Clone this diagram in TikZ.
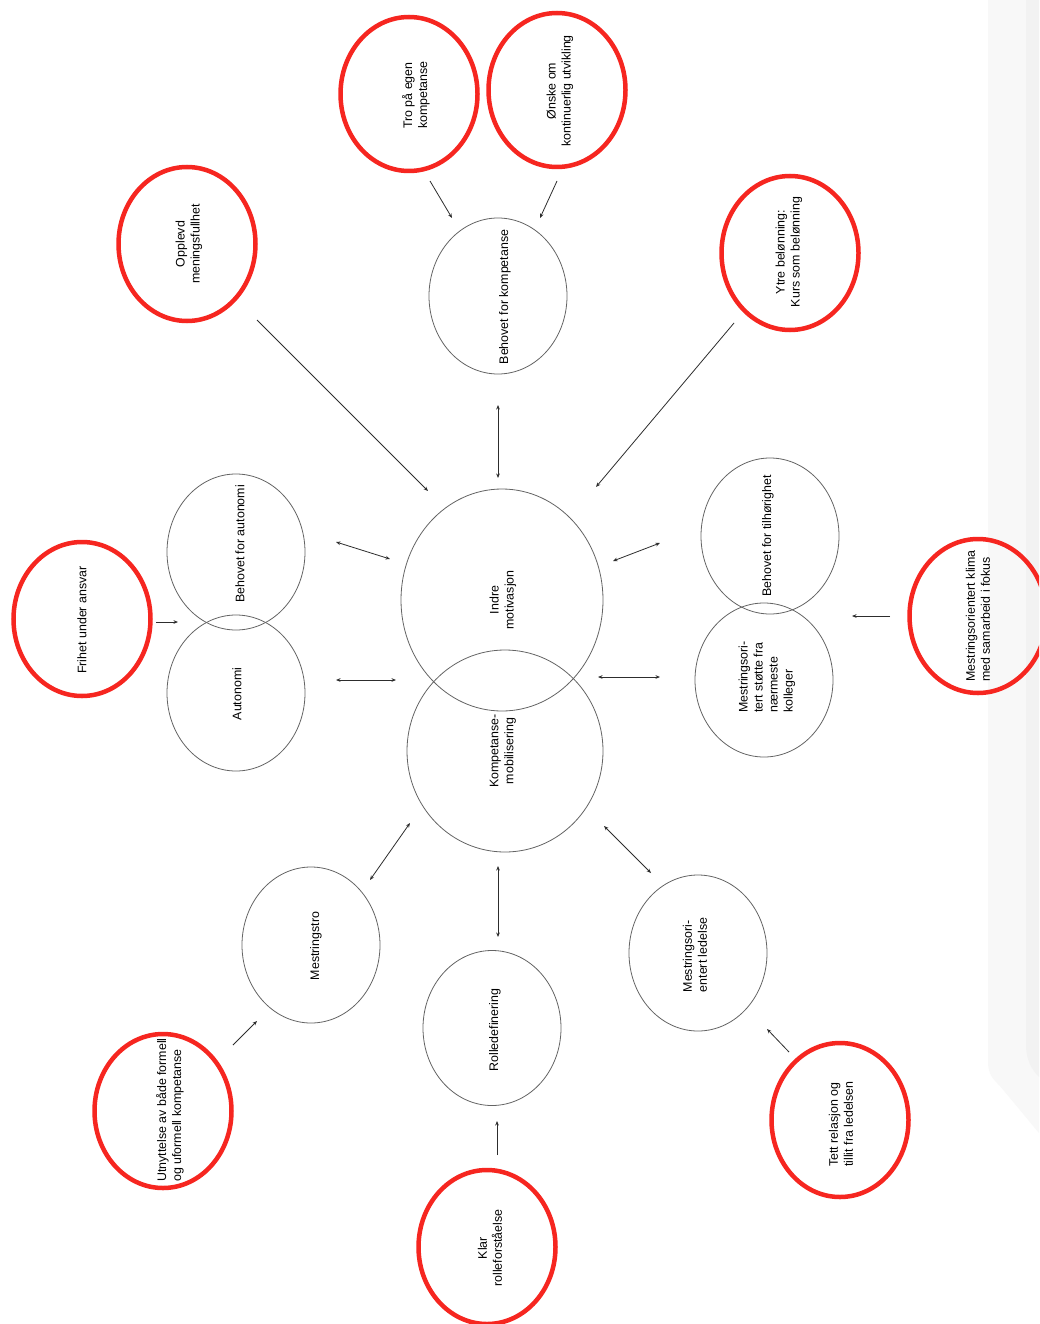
\documentclass[tikz,border=0pt]{standalone}
\usepackage{fontspec}
\setmainfont{Liberation Sans}
\usetikzlibrary{shapes.geometric,arrows.meta}
\definecolor{ringred}{RGB}{246,38,32}
\definecolor{ringgray}{RGB}{100,100,100}
\definecolor{arrowgray}{RGB}{45,45,45}
\definecolor{panelA}{RGB}{248,248,248}
\definecolor{panelB}{RGB}{242,242,242}
\begin{document}
\begin{tikzpicture}[x=1pt,y=-1pt,
  redring/.style={ellipse, draw=ringred, line width=4.5pt, minimum width=137pt, minimum height=154pt, inner sep=0pt},
  grayring/.style={ellipse, draw=ringgray, line width=0.8pt, minimum width=138pt, minimum height=156pt, inner sep=0pt},
  txt/.style={rotate=90, font=\fontsize{12.4}{15}\selectfont, inner sep=0pt, align=center},
  txtl/.style={txt, align=left},
  tip/.tip={Stealth[length=4.5pt,width=3.6pt]},
  conn/.style={draw=arrowgray, line width=0.8pt, -tip},
  biconn/.style={draw=arrowgray, line width=0.8pt, tip-tip}]
\useasboundingbox (0,0) rectangle (1039,1324);
\clip (0,0) rectangle (1039,1324);
\fill[white] (0,0) rectangle (1039,1324);
% faint panel at right edge
\fill[panelA] (988,0) -- (988,1062) .. controls (988,1075) and (994,1080) .. (1000,1086) -- (1039,1133) -- (1039,0) -- cycle;
\fill[panelB] (1026,0) -- (1026,1045) .. controls (1026,1060) and (1032,1070) .. (1039,1077) -- (1039,0) -- cycle;

% red rings
\node[redring] (tro) at (409,94) {};
\node[redring] (onske) at (557,90) {};
\node[redring] (opplevd) at (187,244) {};
\node[redring] (ytre) at (790,253) {};
\node[redring] (frihet) at (82,619) {};
\node[redring] (klima) at (978,616) {};
\node[redring] (utnytt) at (163,1111) {};
\node[redring] (klar) at (487,1247) {};
\node[redring] (tett) at (840,1120) {};

% gray rings
\node[grayring] (bkomp) at (498,296) {};
\node[grayring, minimum width=202pt, minimum height=222pt] (indre) at (502,600) {};
\node[grayring, minimum width=196pt, minimum height=202pt] (kmob) at (505,751) {};
\node[grayring] (baut) at (236,552) {};
\node[grayring] (auto) at (236,693) {};
\node[grayring] (btilh) at (770,536) {};
\node[grayring, minimum height=154pt] (mstotte) at (764,680) {};
\node[grayring] (mtro) at (311,945) {};
\node[grayring, minimum height=155pt] (rolle) at (492,1028) {};
\node[grayring] (mled) at (698,953) {};

% texts
\node[txtl] (tro-t) at (416,95) {Tro på egen\\kompetanse};
\node[txt] (onske-t) at (560,91) {Ønske om\\kontinuerlig utvikling};
\node[txt] (opplevd-t) at (189,244) {Opplevd\\meningsfullhet};
\node[txt] (ytre-t) at (789,252) {Ytre belønning:\\Kurs som belønning};
\node[txt] (frihet-t) at (82,620) {Frihet under ansvar};
\node[txtl] (klima-t) at (978,616) {Mestringsorientert klima\\med samarbeid i fokus};
\node[txtl] (utnytt-t) at (170,1110) {Utnyttelse av både formell\\og uformell kompetanse};
\node[txt] (klar-t) at (490,1248) {Klar\\rolleforståelse};
\node[txtl] (tett-t) at (841,1124) {Tett relasjon og\\tillit fra ledelsen};
\node[txt] (bkomp-t) at (505,297) {Behovet for kompetanse};
\node[txt] (indre-t) at (503,600) {Indre\\motivasjon};
\node[txt] (kmob-t) at (503,751) {Kompetanse-\\mobilisering};
\node[txt] (baut-t) at (240,544) {Behovet for autonomi};
\node[txt] (auto-t) at (237,694) {Autonomi};
\node[txt] (btilh-t) at (768,536) {Behovet for tilhørighet};
\node[txtl] (mstotte-t) at (767,677) {Mestringsori-\\tert støtte fra\\nærmeste\\kolleger};
\node[txt] (mtro-t) at (316,946) {Mestringstro};
\node[txt] (rolle-t) at (495,1030) {Rolledefinering};
\node[txtl] (mled-t) at (695,955) {Mestringsori-\\entert ledelse};

% connector end points (arrows stop short of the rings)
\coordinate (tro-o) at (430,181);    \coordinate (bkomp-a) at (452,218);
\coordinate (onske-o) at (557,181);  \coordinate (bkomp-b) at (540,218);
\coordinate (bkomp-o) at (498,405);  \coordinate (indre-a) at (498,478);
\coordinate (opplevd-o) at (257,320);\coordinate (indre-b) at (428,491);
\coordinate (ytre-o) at (734,323);   \coordinate (indre-c) at (596,487);
\coordinate (baut-o) at (336,542);   \coordinate (indre-d) at (390,559);
\coordinate (frihet-o) at (156,622); \coordinate (baut-i) at (178,622);
\coordinate (auto-o) at (336,680);   \coordinate (kmob-a) at (396,680);
\coordinate (btilh-o) at (660,543);  \coordinate (indre-e) at (613,561);
\coordinate (mstotte-o) at (660,677);\coordinate (kmob-b) at (598,677);
\coordinate (klima-o) at (890,616);  \coordinate (mstotte-i) at (852,616);
\coordinate (kmob-c) at (410,823);   \coordinate (mtro-o) at (370,880);
\coordinate (kmob-d) at (498,866);   \coordinate (rolle-o) at (498,937);
\coordinate (kmob-e) at (604,826);   \coordinate (mled-o) at (651,873);
\coordinate (utnytt-o) at (233,1045);\coordinate (mtro-i) at (257,1021);
\coordinate (klar-o) at (497,1155);  \coordinate (rolle-i) at (497,1121);
\coordinate (tett-o) at (789,1052);  \coordinate (mled-i) at (767,1029);

% connectors
\draw[conn] (tro-o) -- (bkomp-a);
\draw[conn] (onske-o) -- (bkomp-b);
\draw[biconn] (bkomp-o) -- (indre-a);
\draw[conn] (opplevd-o) -- (indre-b);
\draw[conn] (ytre-o) -- (indre-c);
\draw[biconn] (baut-o) -- (indre-d);
\draw[conn] (frihet-o) -- (baut-i);
\draw[biconn] (auto-o) -- (kmob-a);
\draw[biconn] (btilh-o) -- (indre-e);
\draw[biconn] (mstotte-o) -- (kmob-b);
\draw[conn] (klima-o) -- (mstotte-i);
\draw[biconn] (kmob-c) -- (mtro-o);
\draw[biconn] (kmob-d) -- (rolle-o);
\draw[biconn] (kmob-e) -- (mled-o);
\draw[conn] (utnytt-o) -- (mtro-i);
\draw[conn] (klar-o) -- (rolle-i);
\draw[conn] (tett-o) -- (mled-i);
\end{tikzpicture}
\end{document}
